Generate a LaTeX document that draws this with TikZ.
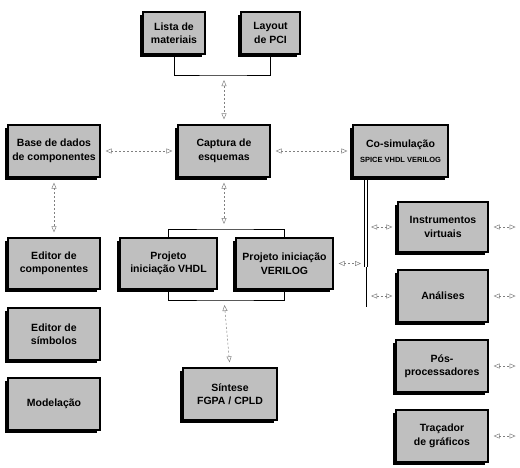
\documentclass[tikz,border=0pt]{standalone}
\usepackage{fontspec}
\setmainfont{Liberation Sans}
\usetikzlibrary{arrows.meta,shadows}

\tikzset{
  bloco/.style={draw=black, line width=1.2pt, fill=black!25, align=center,
    minimum width=92pt, minimum height=52pt, inner sep=1pt,
    font=\fontsize{10.5}{13.5}\selectfont\bfseries,
    drop shadow={shadow xshift=-2.8pt, shadow yshift=-2.8pt, fill=black, opacity=1}},
  liga/.style={gray, line width=0.5pt, dash pattern=on 2pt off 2pt,
    {Triangle[open,length=6pt,width=5pt]}-{Triangle[open,length=6pt,width=5pt]},
    shorten <=5pt, shorten >=5pt},
  chave/.style={black, line width=0.7pt}
}

\begin{document}
\begin{tikzpicture}[x=1pt,y=-1pt]
\useasboundingbox (0,0) rectangle (520,467);

\node[bloco, minimum width=62pt, minimum height=42pt] (lista) at (174,33) {Lista de\\materiais};
\node[bloco, minimum width=59pt, minimum height=42pt] (layout) at (270.5,33) {Layout\\de PCI};

\node[bloco] (base) at (54,151) {Base de dados\\de componentes};
\node[bloco] (captura) at (224,151) {Captura de\\esquemas};
\node[bloco, minimum width=95pt] (cosim) at (400.5,151)
  {Co-simulação\\[1pt]{\fontsize{7.5}{9}\selectfont SPICE VHDL VERILOG}};

\node[bloco, minimum height=51pt] (edcomp) at (54,263.5) {Editor de\\componentes};
\node[bloco] (edsimb) at (54,334) {Editor de\\símbolos};
\node[bloco] (model) at (54,404) {Modelação};

\node[bloco, minimum width=97pt, minimum height=51pt] (vhdl) at (168.5,263.5) {Projeto\\iniciação VHDL};
\node[bloco, minimum width=97pt, minimum height=51pt] (verilog) at (284.5,263.5) {Projeto iniciação\\VERILOG};
\node[bloco, minimum width=94pt] (sintese) at (230,394) {Síntese\\FGPA / CPLD};

\node[bloco, minimum width=90pt, minimum height=50pt] (instr) at (443,227) {Instrumentos\\virtuais};
\node[bloco, minimum width=90pt] (analises) at (443,296) {Análises};
\node[bloco] (pos) at (442,366) {Pós-\\processadores};
\node[bloco] (tracador) at (442,436) {Traçador\\de gráficos};

% chaves
\coordinate (topjoin) at (224,75);
\coordinate (projtop) at (224,229);
\coordinate (projbot) at (224,300);
\draw[chave] (lista.south) |- (topjoin) -| (layout.south);
\draw[chave] (vhdl.north) |- (projtop) -| (verilog.north);
\draw[chave] (vhdl.south) |- (projbot) -| (verilog.south);

% barramento da co-simulacao
\coordinate (busTop) at (366,180);
\coordinate (busMid) at (366,267);
\coordinate (busBot) at (366,307);
\foreach \d in {-1.2,1.2}
  \draw[chave] ([xshift=\d pt]busTop) -- ([xshift=\d pt]busMid);
\draw[chave] (busMid) -- (busBot);

% ligacoes
\draw[liga] (topjoin) -- (captura.north);
\draw[liga] (base.east) -- (captura.west);
\draw[liga] (captura.east) -- (cosim.west);
\draw[liga] (base.south) -- (edcomp.north);
\draw[liga] (captura.south) -- (projtop);
\draw[liga] (projbot) -- (sintese.north);
\draw[liga] (verilog.east) -- (verilog.east -| busTop);

\foreach \n in {instr,analises}
  \draw[liga] (\n.west -| busTop) -- (\n.west);

\foreach \n in {instr,analises,pos,tracador}{
  \path (\n.east) ++(32,0) coordinate (\n-fim);
  \draw[liga] (\n.east) -- (\n-fim);
}
\end{tikzpicture}
\end{document}
